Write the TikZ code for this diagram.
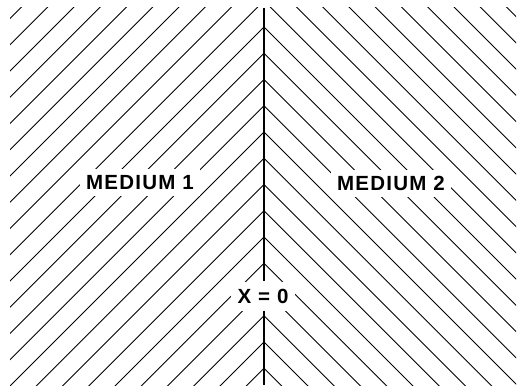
\documentclass[tikz,border=0pt]{standalone}
\usepackage{fontspec}
\newfontfamily\labfont[LetterSpace=6]{Liberation Sans}
\begin{document}
\begin{tikzpicture}[x=1pt,y=-1pt,
  hatch/.style={line width=0.9pt,black},
  axisline/.style={line width=2.4pt,black},
  lbl/.style={fill=white,font=\labfont\bfseries\fontsize{20.5}{20.5}\selectfont,
    text height=15pt,text depth=0pt,inner xsep=6pt,inner ysep=6pt}]
\useasboundingbox (0,0) rectangle (518,385);
% medium 1 hatching
\begin{scope}
  \clip (10,8) rectangle (264,385);
  \foreach \k in {-11,...,14}{
    \pgfmathsetmacro\yk{26.9+26.25*\k}
    \draw[hatch] (314,\yk-50) -- (-36,\yk+300);
  }
\end{scope}
% medium 2 hatching
\begin{scope}
  \clip (264,8) rectangle (516,385);
  \foreach \k in {-11,...,14}{
    \pgfmathsetmacro\yk{26.9+26.25*\k}
    \draw[hatch] (214,\yk-50) -- (564,\yk+300);
  }
\end{scope}
\coordinate (top) at (264,8);
\coordinate (bot) at (264,385);
\node[lbl] (m1) at (140,182) {MEDIUM 1};
\node[lbl] (m2) at (391,183) {MEDIUM 2};
\node[lbl,inner xsep=7pt,inner ysep=7pt] (x0) at (263,296) {X = 0};
\draw[axisline] (top) -- (x0.north -| top);
\draw[axisline] (x0.south -| top) -- (bot);
\end{tikzpicture}
\end{document}
